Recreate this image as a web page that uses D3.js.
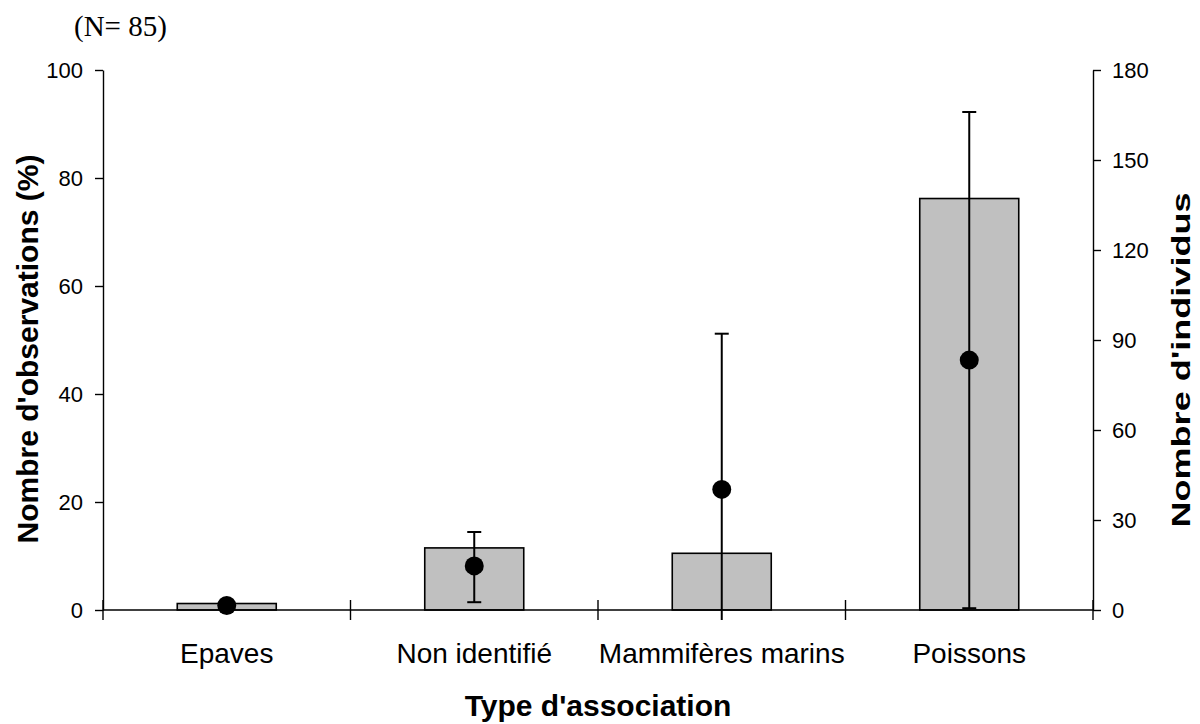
<!DOCTYPE html>
<html>
<head>
<meta charset="utf-8">
<script src="https://cdn.jsdelivr.net/npm/d3@7"></script>
<style>
  body { margin: 0; background: #fff; }
  text { font-family: Arial, "Liberation Sans", sans-serif; fill: #000; }
</style>
</head>
<body>
<script>
// categories and values
const categories = ["Epaves", "Non identifié", "Mammifères marins", "Poissons"];
const pctObs = [1.2, 11.5, 10.5, 76.2];          // bars, left axis (%)
const nbInd = [1.5, 14.7, 40.2, 83.3];           // dots, right axis
const nbLow = [null, 2.6, -3.3, 0.6];            // error bar lower end
const nbHigh = [null, 26.0, 92.1, 166.0];        // error bar upper end
const leftTicks = [0, 20, 40, 60, 80, 100];
const rightTicks = [0, 30, 60, 90, 120, 150, 180];

const W = 1200, H = 724;
const plot = { left: 103, right: 1093, top: 70, bottom: 610 };

const svg = d3.select("body").append("svg")
    .attr("width", W)
    .attr("height", H);

const x = d3.scaleBand()
    .domain(categories)
    .range([plot.left, plot.right]);

const yL = d3.scaleLinear()
    .domain([0, 100])
    .range([plot.bottom, plot.top]);

const yR = d3.scaleLinear()
    .domain([0, 180])
    .range([plot.bottom, plot.top]);

const barW = x.bandwidth() * 0.4;

// bars
svg.append("g")
  .selectAll("rect")
  .data(categories)
  .enter()
  .append("rect")
    .attr("x", d => x(d) + (x.bandwidth() - barW) / 2)
    .attr("y", (d, i) => yL(pctObs[i]))
    .attr("width", barW)
    .attr("height", (d, i) => yL(0) - yL(pctObs[i]))
    .style("fill", "#c0c0c0")
    .style("stroke", "#000")
    .style("stroke-width", 1.6);

// left axis
const gL = svg.append("g")
    .attr("transform", `translate(${plot.left},0)`)
    .call(d3.axisLeft(yL).tickValues(leftTicks).tickSize(8).tickSizeOuter(0).tickPadding(12));

// right axis
const gR = svg.append("g")
    .attr("transform", `translate(${plot.right},0)`)
    .call(d3.axisRight(yR).tickValues(rightTicks).tickSize(8).tickSizeOuter(0).tickPadding(11));

[gL, gR].forEach(g => {
  g.select(".domain").attr("stroke", "#000").attr("stroke-width", 1.4);
  g.selectAll(".tick line").attr("stroke", "#000").attr("stroke-width", 1.4);
  g.selectAll(".tick text")
    .style("font-size", "22px")
    .style("font-family", "Arial, 'Liberation Sans', sans-serif");
});

// bottom axis: baseline with crossing ticks at band edges
const gB = svg.append("g");
gB.append("line")
    .attr("x1", plot.left).attr("x2", plot.right)
    .attr("y1", yL(0)).attr("y2", yL(0))
    .attr("stroke", "#000").attr("stroke-width", 1.4);

const edges = categories.map(d => x(d)).concat([plot.right]);
gB.selectAll(".edge")
  .data(edges)
  .enter()
  .append("line")
    .attr("class", "edge")
    .attr("x1", d => d).attr("x2", d => d)
    .attr("y1", yL(0) - 10).attr("y2", yL(0) + 10)
    .attr("stroke", "#000").attr("stroke-width", 1.4);

gB.selectAll(".cat")
  .data(categories)
  .enter()
  .append("text")
    .attr("class", "cat")
    .attr("x", d => x(d) + x.bandwidth() / 2)
    .attr("y", 663)
    .attr("text-anchor", "middle")
    .style("font-size", "28px")
    .text(d => d);

// error bars
const err = svg.append("g");
categories.forEach((c, i) => {
  if (nbHigh[i] == null) return;
  const cx = x(c) + x.bandwidth() / 2;
  err.append("line")
    .attr("x1", cx).attr("x2", cx)
    .attr("y1", yR(nbLow[i])).attr("y2", yR(nbHigh[i]))
    .attr("stroke", "#000").attr("stroke-width", 2);
  err.append("line")
    .attr("x1", cx - 7).attr("x2", cx + 7)
    .attr("y1", yR(nbHigh[i])).attr("y2", yR(nbHigh[i]))
    .attr("stroke", "#000").attr("stroke-width", 2);
  if (nbLow[i] >= 0) {
    err.append("line")
      .attr("x1", cx - 7).attr("x2", cx + 7)
      .attr("y1", yR(nbLow[i])).attr("y2", yR(nbLow[i]))
      .attr("stroke", "#000").attr("stroke-width", 2);
  }
});

// dots
svg.append("g")
  .selectAll("circle")
  .data(categories)
  .enter()
  .append("circle")
    .attr("cx", d => x(d) + x.bandwidth() / 2)
    .attr("cy", (d, i) => yR(nbInd[i]))
    .attr("r", 9.5)
    .style("fill", "#000");

// titles
svg.append("text")
    .attr("x", 598)
    .attr("y", 716)
    .attr("text-anchor", "middle")
    .style("font-size", "30px")
    .style("font-weight", "bold")
    .text("Type d'association");

svg.append("text")
    .attr("transform", "translate(38,349) rotate(-90)")
    .attr("text-anchor", "middle")
    .style("font-size", "30px")
    .style("font-weight", "bold")
    .text("Nombre d'observations (%)");

// right title is drawn taller than its letters are wide in the reference
svg.append("text")
    .attr("transform", "translate(1190,360) rotate(-90)")
    .attr("text-anchor", "middle")
    .attr("textLength", 335)
    .attr("lengthAdjust", "spacingAndGlyphs")
    .style("font-size", "26px")
    .style("font-weight", "bold")
    .text("Nombre d'individus");

svg.append("text")
    .attr("x", 74)
    .attr("y", 36)
    .style("font-family", "'Times New Roman', 'Liberation Serif', serif")
    .style("font-size", "29px")
    .text("(N= 85)");
</script>
</body>
</html>
